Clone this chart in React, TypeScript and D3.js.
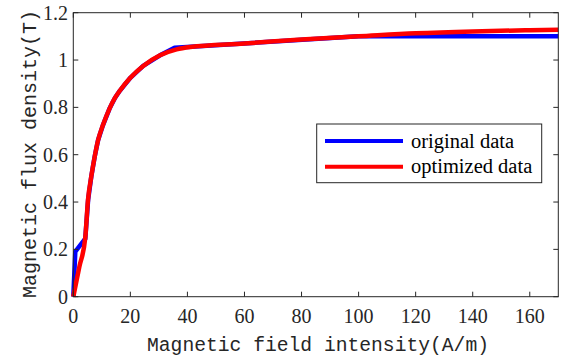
import React from "react";
import * as d3 from "d3";

const xTicks = [0, 20, 40, 60, 80, 100, 120, 140, 160];
const yTicks = [0, 0.2, 0.4, 0.6, 0.8, 1, 1.2];

const originalH = [0, 0.7, 4.2, 5.2, 6.3, 7.5, 8.7, 10.4, 12.7, 14.6, 16.3, 20, 24.5, 30.4, 35.5, 100, 170];
const originalB = [0, 0.19, 0.245, 0.41, 0.507, 0.592, 0.662, 0.725, 0.795, 0.84, 0.87, 0.925, 0.975, 1.02, 1.052, 1.1, 1.1];

const optimizedH = [0, 2.1, 4.2, 5.15, 6.3, 7.5, 8.7, 10.4, 12.7, 14.6, 16.3, 20, 24.5, 30.4, 36.2, 41, 60, 80, 100, 120, 140, 160, 170];
const optimizedB = [0, 0.125, 0.25, 0.409, 0.507, 0.592, 0.662, 0.725, 0.795, 0.84, 0.87, 0.925, 0.975, 1.02, 1.045, 1.055, 1.07, 1.087, 1.1, 1.113, 1.121, 1.126, 1.128];

const seriesNames = ["original data", "optimized data"];
const seriesColors = ["#0000ff", "#ff0000"];
const xLabel = "Magnetic field intensity(A/m)";
const yLabel = "Magnetic flux density(T)";

export default function App() {
  const W = 567, H = 358;
  const left = 73.3, right = 558.3, top = 12.7, bottom = 296.7;
  const x = d3.scaleLinear().domain([0, 170]).range([left, right]);
  const y = d3.scaleLinear().domain([0, 1.2]).range([bottom, top]);
  const line = d3.line<[number, number]>().x(d => x(d[0])).y(d => y(d[1]));
  const smooth = d3.line<[number, number]>().x(d => x(d[0])).y(d => y(d[1])).curve(d3.curveMonotoneX);
  const orig: [number, number][] = originalH.map((h, i) => [h, originalB[i]]);
  const opt: [number, number][] = optimizedH.map((h, i) => [h, optimizedB[i]]);
  const axisColor = "#262626";
  const tl = 5;
  const serif = { fontFamily: "Liberation Serif, DejaVu Serif, serif" };
  const mono = { fontFamily: "Liberation Mono, DejaVu Sans Mono, monospace" };
  return (
    <svg width={W} height={H} style={{ position: "absolute", left: 0, top: 0, background: "#fff" }}>
      <rect x={0} y={0} width={W} height={H} fill="#fff" />
      <path d={line(orig) || ""} fill="none" stroke={seriesColors[0]} strokeWidth={4.5} strokeLinejoin="round" />
      <path d={smooth(opt) || ""} fill="none" stroke={seriesColors[1]} strokeWidth={4.5} strokeLinejoin="round" />
      <rect x={left} y={top} width={right - left} height={bottom - top} fill="none" stroke={axisColor} strokeWidth={1} />
      {xTicks.map(t => (
        <g key={"x" + t}>
          <line x1={x(t)} x2={x(t)} y1={bottom} y2={bottom - tl} stroke={axisColor} />
          <line x1={x(t)} x2={x(t)} y1={top} y2={top + tl} stroke={axisColor} />
          <text x={x(t)} y={323} textAnchor="middle" style={serif} fontSize={20} fill="#262626">{t}</text>
        </g>
      ))}
      {yTicks.map(t => (
        <g key={"y" + t}>
          <line x1={left} x2={left + tl} y1={y(t)} y2={y(t)} stroke={axisColor} />
          <line x1={right} x2={right - tl} y1={y(t)} y2={y(t)} stroke={axisColor} />
          <text x={68} y={y(t) + 7} textAnchor="end" style={serif} fontSize={20} fill="#262626">{d3.format("~g")(t)}</text>
        </g>
      ))}
      <text x={318} y={351} textAnchor="middle" style={mono} fontSize={20} textLength={342} lengthAdjust="spacingAndGlyphs" fill="#262626">{xLabel}</text>
      <text transform={`translate(36,154) rotate(-90)`} textAnchor="middle" style={mono} fontSize={20} textLength={288} lengthAdjust="spacingAndGlyphs" fill="#262626">{yLabel}</text>
      <rect x={316.7} y={124} width={225} height={58.7} fill="#fff" stroke={axisColor} strokeWidth={1} />
      {seriesNames.map((n, i) => (
        <g key={n}>
          <line x1={325} x2={403} y1={141 + i * 25.7} y2={141 + i * 25.7} stroke={seriesColors[i]} strokeWidth={4} />
          <text x={411} y={147.7 + i * 25.7} style={serif} fontSize={20.5} fill="#000">{n}</text>
        </g>
      ))}
    </svg>
  );
}
